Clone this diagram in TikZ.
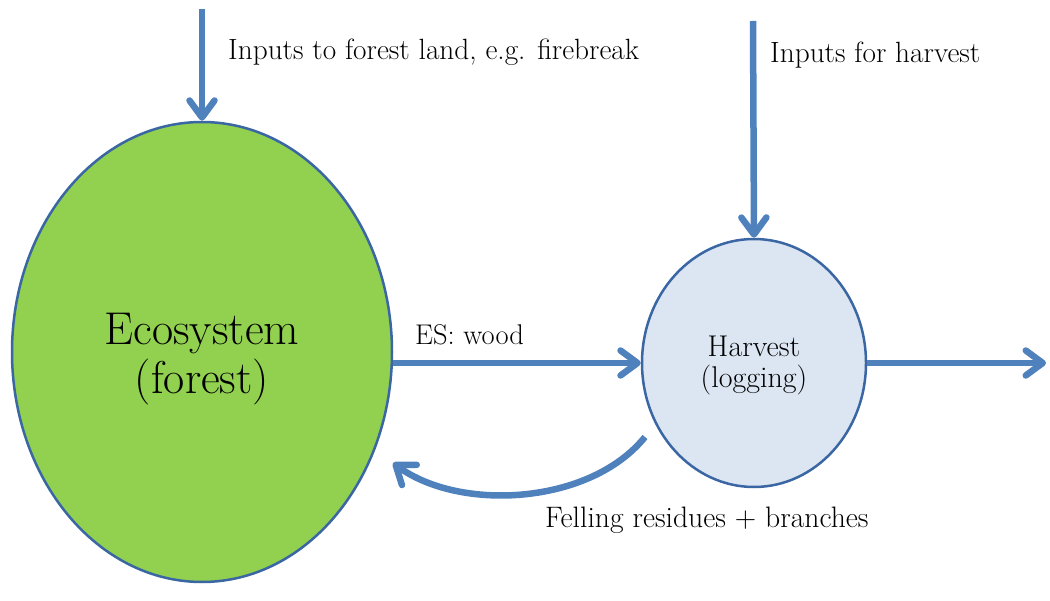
\documentclass[tikz,border=0pt]{standalone}
\usetikzlibrary{arrows.meta,shapes.geometric}
\definecolor{flowblue}{HTML}{4F81BD}
\definecolor{rimblue}{HTML}{3A66A3}
\definecolor{forestgreen}{HTML}{92D050}
\definecolor{harvestfill}{HTML}{DCE6F2}
\begin{document}
\begin{tikzpicture}[x=1pt,y=-1pt,
  flow/.style={draw=flowblue, line width=6.5pt,
    -{Straight Barb[length=17pt,width=25pt,round]}},
  pool/.style={ellipse, draw=rimblue, line width=2.5pt, inner sep=0pt},
  pooltext/.style={inner sep=0pt, align=center},
  lbl/.style={inner sep=0pt, anchor=base west, font=\fontsize{29.3}{32}\selectfont}]
\useasboundingbox (0,0) rectangle (1050,601);

% the two stocks
\node[pool, fill=forestgreen, minimum width=380pt, minimum height=460pt] (eco) at (202,352) {};
\node[pool, fill=harvestfill, minimum width=224pt, minimum height=248pt] (harv) at (754,363) {};
\node[pooltext, font=\fontsize{46}{49}\selectfont] (ecoText) at ([yshift=-7pt]eco.center) {Ecosystem\\(forest)};
\node[pooltext, font=\fontsize{30}{31}\selectfont] (harvText) at ([yshift=-3pt]harv.center) {Harvest\\(logging)};

% free ends of the flows
\coordinate (inForest) at (202,9);
\coordinate (inHarvest) at (753,21);
\coordinate (outHarvest) at (1046,363);
\coordinate (resStart) at (645,437);
\coordinate (resEnd) at (393,463);

% flows
\draw[flow] (inForest) -- (eco.north);
\draw[flow] (inHarvest) -- (harv.north);
\draw[flow] (eco.east |- harv.west) -- (harv.west);
\draw[flow] (harv.east) -- (outHarvest);
\draw[flow] (resStart) .. controls (590,505) and (460,512) .. (resEnd);

% labels
\node[lbl] (lblForest) at (228,60) {Inputs to forest land, e.g. firebreak};
\node[lbl] (lblHarvest) at (770,63) {Inputs for harvest};
\node[lbl, font=\fontsize{28.5}{32}\selectfont] (lblWood) at (415,345) {ES: wood};
\node[lbl, font=\fontsize{29.6}{32}\selectfont] (lblResidue) at (545,527) {Felling residues + branches};
\end{tikzpicture}
\end{document}
